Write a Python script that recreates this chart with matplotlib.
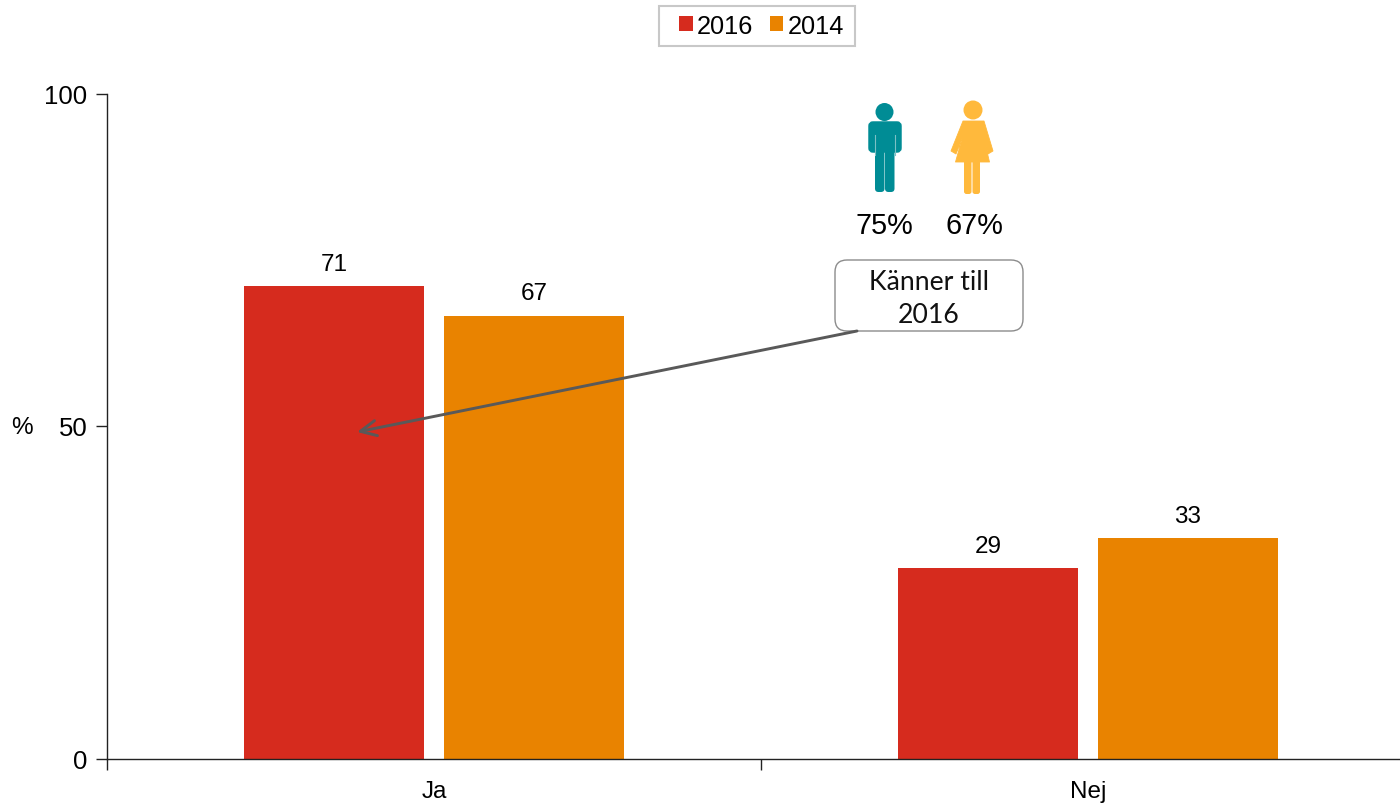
import matplotlib
matplotlib.use('Agg')
import matplotlib.pyplot as plt
from matplotlib.patches import Circle, FancyBboxPatch, Polygon, Rectangle
import numpy as np

plt.rcParams['font.family'] = ['Liberation Sans', 'DejaVu Sans']

categories = ['Ja', 'Nej']
years = ['2016', '2014']
values_2016 = [71.1, 28.7]
values_2014 = [66.6, 33.1]
labels_2016 = ['71', '29']
labels_2014 = ['67', '33']
men_share = '75%'
women_share = '67%'
callout_text = 'Känner till\n2016'

RED = '#d62b1e'
ORANGE = '#e98300'
TEAL = '#008c95'
YELLOW = '#ffb93c'

W, H = 1400, 804
fig = plt.figure(figsize=(W / 100, H / 100), dpi=100)
ax = fig.add_axes([107 / W, 1 - 759.5 / H, (W - 107) / W, 665 / H])

x = np.arange(len(categories))
bars_2016 = ax.bar(x - 0.153, values_2016, width=0.275, color=RED, label=years[0])
bars_2014 = ax.bar(x + 0.153, values_2014, width=0.275, color=ORANGE, label=years[1])
for bars, labels in [(bars_2016, labels_2016), (bars_2014, labels_2014)]:
    ax.bar_label(bars, labels=labels, padding=8, fontsize=17.5, color='black')

ax.set_yticks([0, 50, 100])
ax.set_xticks([-0.5, 0.5])
ax.set_xticklabels([])
ax.set_xticks(x, categories, minor=True)
ax.set_xlim(-0.5, (W - 434) / 654)
ax.set_ylim(0, 100)
ax.tick_params(axis='x', which='minor', length=0, labelsize=17.5, pad=15.5)
ax.tick_params(axis='x', which='major', length=8, width=1, color='#222222')
ax.tick_params(axis='y', length=8, width=1, labelsize=18.5, pad=6, color='#222222')
for side in ['top', 'right']:
    ax.spines[side].set_visible(False)
for side in ['left', 'bottom']:
    ax.spines[side].set_linewidth(1)
    ax.spines[side].set_color('#222222')

# overlay in pixels for the legend frame, icons, callout and arrow
over = fig.add_axes([0, 0, 1, 1], facecolor='none')
over.set_xlim(0, W)
over.set_ylim(H, 0)
over.axis('off')

over.add_patch(Rectangle((659, 6.5), 196, 40.5, fc='white', ec='#c8c8c8', lw=1.5))
leg = fig.legend(handles=[bars_2016, bars_2014], labels=years, loc='center',
                 bbox_to_anchor=(761.5 / W, 1 - 26.5 / H), ncol=2, fontsize=18.3,
                 frameon=False, handlelength=0.55, handleheight=0.55, handletextpad=0.17,
                 columnspacing=0.63, borderpad=0, borderaxespad=0)
leg.set_zorder(5)

over.text(22, 428, '%', fontsize=17.5, ha='center', va='center')

# man
over.add_patch(Circle((884.5, 113), 9, color=TEAL, lw=0))
over.add_patch(FancyBboxPatch((870, 124), 30, 28, boxstyle='round,pad=0,rounding_size=3',
                              fc=TEAL, ec=TEAL, lw=2.5))
over.add_patch(FancyBboxPatch((875, 150), 9.5, 43, boxstyle='round,pad=0,rounding_size=3.5',
                              fc=TEAL, ec='none'))
over.add_patch(FancyBboxPatch((885, 150), 9.5, 43, boxstyle='round,pad=0,rounding_size=3.5',
                              fc=TEAL, ec='none'))
# gaps between arms and body
over.plot([875, 875], [136, 156], color='#7cc0c4', lw=0.8)
over.plot([895, 895], [136, 156], color='#7cc0c4', lw=0.8)

# woman
over.add_patch(Circle((973, 111), 9.5, color=YELLOW, lw=0))
over.add_patch(Polygon([(963, 122), (984, 122), (993, 152), (988, 155), (984, 140),
                        (989.5, 163), (955.5, 163), (962, 140), (956, 155), (951, 152)],
                       closed=True, fc=YELLOW, ec=YELLOW, lw=0.6, joinstyle='round'))
over.add_patch(FancyBboxPatch((964, 160), 7.5, 35, boxstyle='round,pad=0,rounding_size=2.5',
                              fc=YELLOW, ec='none'))
over.add_patch(FancyBboxPatch((972.5, 160), 7.5, 35, boxstyle='round,pad=0,rounding_size=2.5',
                              fc=YELLOW, ec='none'))

over.text(884, 226, men_share, fontsize=20.8, ha='center', va='center')
over.text(974, 226, women_share, fontsize=20.8, ha='center', va='center')

# callout
over.add_patch(FancyBboxPatch((835, 261), 188, 71, boxstyle='round,pad=0,rounding_size=12',
                              fc='white', ec='#8c8c8c', lw=1, zorder=3))
over.text(929, 299, callout_text, fontsize=19.2, family=['Lato', 'DejaVu Sans'], ha='center',
          va='center', linespacing=1.43, color='#111111', zorder=4)

over.annotate('', xy=(357, 433), xytext=(857, 332),
              arrowprops=dict(arrowstyle='->,head_length=1.15,head_width=0.55', color='#595959',
                              lw=2.1, shrinkA=0, shrinkB=0))

fig.savefig('out.png', dpi=100)
plt.close()
